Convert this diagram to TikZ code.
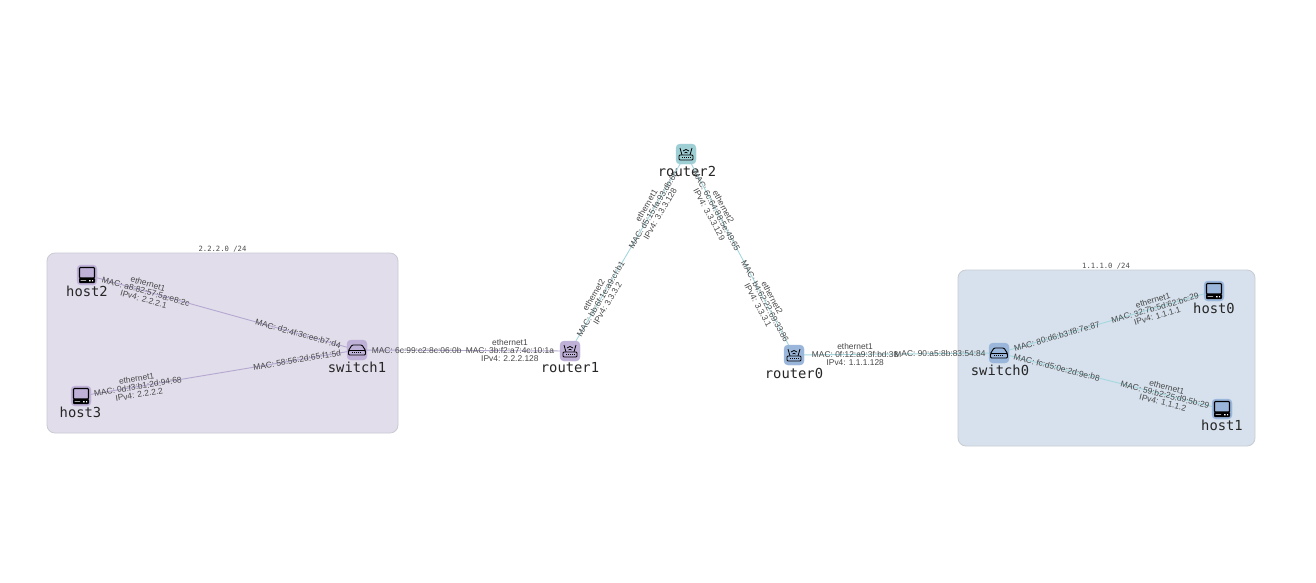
\documentclass[tikz,border=0pt]{standalone}
\usepackage{fontspec}
\setmainfont{Liberation Sans}
\newfontfamily\monofam{DejaVu Sans Mono}
\definecolor{cpurple}{HTML}{BFB0D8}
\definecolor{cteal}{HTML}{9DCFD5}
\definecolor{cblue}{HTML}{9AB6DA}
\definecolor{gpurple}{HTML}{E1DDEB}
\definecolor{gblue}{HTML}{D6E1ED}
\definecolor{gborder}{HTML}{C9CBD2}
\definecolor{epurple}{HTML}{B5A8D0}
\definecolor{eteal}{HTML}{A5D8DE}
\definecolor{labtext}{HTML}{484848}
\tikzset{
  iconbox/.style={rectangle,rounded corners=4pt,minimum size=20pt,inner sep=0pt,outer sep=0pt,fill=#1,draw=#1},
  nlabel/.style={font=\monofam\fontsize{13.8}{14}\selectfont,text=black!85,inner sep=0pt},
  grouplab/.style={font=\monofam\fontsize{7.2}{8}\selectfont,text=black!70,inner sep=0pt},
  groupbox/.style={rectangle,rounded corners=8pt,fill=#1,draw=gborder,line width=.8pt,inner sep=0pt,outer sep=0pt},
  elab/.style={font=\fontsize{8.4}{8}\selectfont,text=labtext,align=center,inner sep=0pt,sloped,pos=#1,anchor=center},
  edgeline/.style={draw=#1,line width=.9pt},
  routericon/.pic={
    \draw[black,line width=.9pt,rounded corners=1pt] (-7,1) rectangle (7,6);
    \draw[black,line width=.8pt] (-4,1) -- (-6,-6) (4,1) -- (6,-6);
    \draw[black,line width=.7pt] (-3,-3) .. controls (-1.5,-5) and (1.5,-5) .. (3,-3);
    \draw[black,line width=.7pt] (-1.5,-1) .. controls (-.7,-2) and (.7,-2) .. (1.5,-1);
    \draw[black,line width=1pt,dash pattern=on 1pt off 1pt] (-4,3.5) -- (5,3.5);
  },
  switchicon/.pic={
    \draw[black,line width=.9pt,rounded corners=1pt] (-8.5,.5) rectangle (8.5,5);
    \draw[black,line width=.9pt,rounded corners=1pt] (-8.5,.5) -- (-5,-5) -- (5,-5) -- (8.5,.5);
    \draw[black,line width=.5pt,dash pattern=on 1pt off 1pt] (-5,2.7) -- (5,2.7);
  },
  hosticon/.pic={
    \draw[black,line width=1.1pt,rounded corners=.8pt] (-7.5,-7.5) rectangle (7.5,3);
    \fill[black,rounded corners=.8pt] (-8,3) rectangle (8,8);
    \fill[white] (-6.5,5) rectangle (-1,5.6) (2,5) rectangle (3.5,6.4) (5,5) rectangle (6,6.4);
  }
}
\begin{document}
\begin{tikzpicture}[x=1pt,y=-1pt]
\useasboundingbox (0,0) rectangle (1316,582);
\fill[white] (0,0) rectangle (1316,582);

\node[groupbox=gpurple,minimum width=351pt,minimum height=180pt] (gleft) at (222.5,343) {};
\node[groupbox=gblue,minimum width=297pt,minimum height=176pt] (gright) at (1106.5,358) {};
\node[grouplab] (gleftlab) at (222.5,249) {2.2.2.0 /24};
\node[grouplab] (grightlab) at (1106,266) {1.1.1.0 /24};

\node[iconbox=cpurple] (host2) at (87,275) {};
\node[iconbox=cpurple] (host3) at (81,396) {};
\node[iconbox=cpurple] (switch1) at (357,350) {};
\node[iconbox=cpurple] (router1) at (570,351) {};
\node[iconbox=cteal] (router2) at (686,154) {};
\node[iconbox=cblue] (router0) at (794,355) {};
\node[iconbox=cblue] (switch0) at (999,353) {};
\node[iconbox=cblue] (host0) at (1214,291) {};
\node[iconbox=cblue] (host1) at (1222,409) {};

\pic at (host2) {hosticon};
\pic at (host3) {hosticon};
\pic at (host0) {hosticon};
\pic at (host1) {hosticon};
\pic at (switch1) {switchicon};
\pic at (switch0) {switchicon};
\pic at (router1) {routericon};
\pic at (router2) {routericon};
\pic at (router0) {routericon};

\node[nlabel] (host2lab) at (87,291) {host2};
\node[nlabel] (host3lab) at (80.5,412) {host3};
\node[nlabel] (switch1lab) at (357,367) {switch1};
\node[nlabel] (router1lab) at (570,368) {router1};
\node[nlabel] (router2lab) at (687,171) {router2};
\node[nlabel] (router0lab) at (794,373) {router0};
\node[nlabel] (switch0lab) at (1000,370) {switch0};
\node[nlabel] (host0lab) at (1214,308) {host0};
\node[nlabel] (host1lab) at (1222,425.5) {host1};

\draw[edgeline=epurple] (host2) -- (switch1);
\draw[edgeline=epurple] (host3) -- (switch1);
\draw[edgeline=epurple] (switch1) -- (router1);
\draw[edgeline=eteal] (router1) -- (router2);
\draw[edgeline=eteal] (router2) -- (router0);
\draw[edgeline=eteal] (router0) -- (switch0);
\draw[edgeline=eteal] (switch0) -- (host0);
\draw[edgeline=eteal] (switch0) -- (host1);

\path (host2.center) -- node[elab=.218] (la) {ethernet1\\MAC: a8:82:57:5a:e8:2c\\IPv4: 2.2.2.1} node[elab=.782] (lb) {MAC: d2:4f:3c:ee:b7:d4} (switch1.center);
\path (host3.center) -- node[elab=.206] (lc) {ethernet1\\MAC: 0d:f3:b1:2d:94:68\\IPv4: 2.2.2.2} node[elab=.783] (ld) {MAC: 58:56:2d:65:f1:5d} (switch1.center);
\path (switch1.center) -- node[elab=.28] (le) {MAC: 6c:99:c2:8c:06:0b} node[elab=.718] (lf) {ethernet1\\MAC: 3b:f2:a7:4c:10:1a\\IPv4: 2.2.2.128} (router1.center);
\path (router1.center) -- node[elab=.263] (lg) {ethernet2\\MAC: bb:6f:1e:a9:cf:b1\\IPv4: 3.3.3.2} node[elab=.717] (lh) {ethernet1\\MAC: d5:15:fa:93:db:6b\\IPv4: 3.3.3.128} (router2.center);
\path (router2.center) -- node[elab=.282] (li) {ethernet2\\MAC: 6c:64:88:5e:49:65\\IPv4: 3.3.3.129} node[elab=.733] (lj) {ethernet2\\MAC: b4:62:22:69:33:86\\IPv4: 3.3.3.1} (router0.center);
\path (router0.center) -- node[elab=.298] (lk) {ethernet1\\MAC: 0f:12:a9:3f:bd:38\\IPv4: 1.1.1.128} node[elab=.712] (ll) {MAC: 90:a5:8b:83:54:84} (switch0.center);
\path (switch0.center) -- node[elab=.269] (lm) {MAC: 80:d6:b3:f8:7e:87} node[elab=.726] (ln) {ethernet1\\MAC: 32:7b:5d:62:bc:29\\IPv4: 1.1.1.1} (host0.center);
\path (switch0.center) -- node[elab=.259] (lo) {MAC: fc:d5:0e:2d:9e:b8} node[elab=.744] (lp) {ethernet1\\MAC: 59:b2:25:d9:5b:29\\IPv4: 1.1.1.2} (host1.center);
\end{tikzpicture}
\end{document}
